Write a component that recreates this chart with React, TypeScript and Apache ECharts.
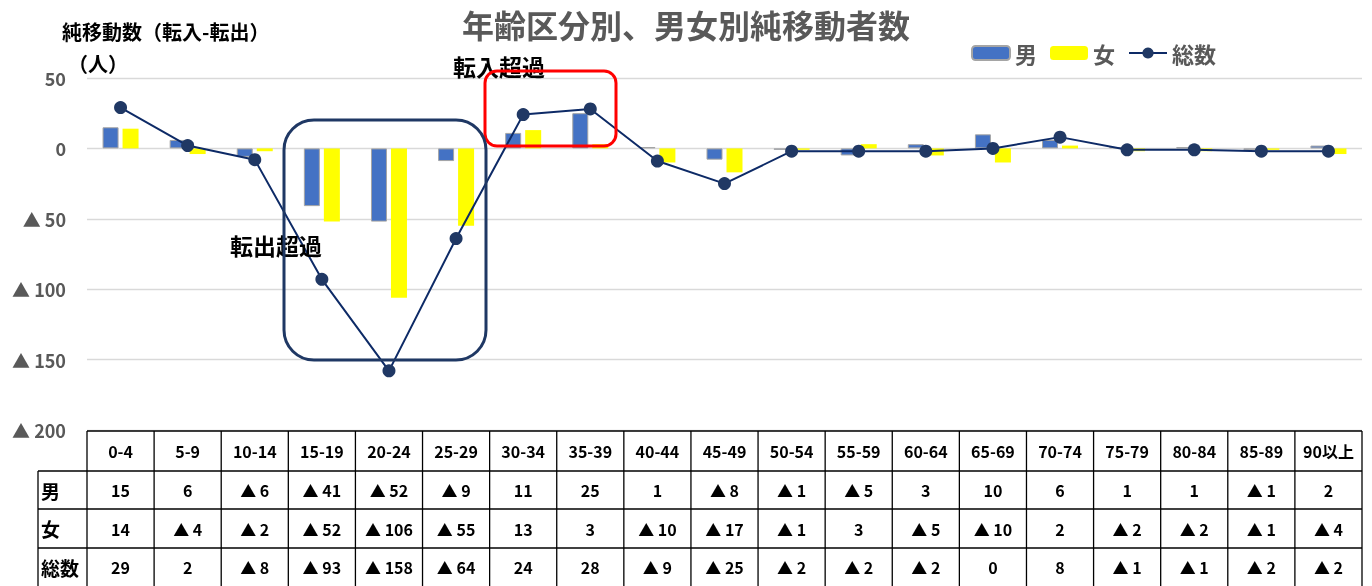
import React, { useEffect, useRef } from "react";
import * as echarts from "echarts";

const categories = ["0-4", "5-9", "10-14", "15-19", "20-24", "25-29", "30-34", "35-39", "40-44", "45-49", "50-54", "55-59", "60-64", "65-69", "70-74", "75-79", "80-84", "85-89", "90以上"];
const maleValues = [15, 6, -6, -41, -52, -9, 11, 25, 1, -8, -1, -5, 3, 10, 6, 1, 1, -1, 2];
const femaleValues = [14, -4, -2, -52, -106, -55, 13, 3, -10, -17, -1, 3, -5, -10, 2, -2, -2, -1, -4];
const totalValues = [29, 2, -8, -93, -158, -64, 24, 28, -9, -25, -2, -2, -2, 0, 8, -1, -1, -2, -2];
const rowLabels = ["男", "女", "総数"];
const seriesNames = ["男", "女", "総数"];

const FONT = "'Noto Sans CJK JP', 'Noto Sans', sans-serif";
const fmt = (v: number) => (v < 0 ? "▲ " + -v : String(v));

export default function App() {
  const ref = useRef<HTMLDivElement>(null);
  useEffect(() => {
    if (!ref.current) return;
    const chart = echarts.init(ref.current, null, { renderer: "svg" });

    const gridLeft = 87;
    const gridRight = 1362;
    const colW = (gridRight - gridLeft) / categories.length;
    const tableTop = 431;
    const rowBounds = [431, 471, 509, 548, 586];
    const labelLeft = 38;
    const lineStyle = { stroke: "#000", lineWidth: 1.3 };

    const graphics: any[] = [];
    graphics.push({ type: "line", shape: { x1: gridLeft, y1: tableTop, x2: gridRight, y2: tableTop }, style: lineStyle, z: 100 });
    for (let r = 1; r < 4; r++) {
      graphics.push({ type: "line", shape: { x1: labelLeft, y1: rowBounds[r], x2: gridRight, y2: rowBounds[r] }, style: lineStyle, z: 100 });
    }
    graphics.push({ type: "line", shape: { x1: labelLeft, y1: rowBounds[1], x2: labelLeft, y2: 586 }, style: lineStyle, z: 100 });
    for (let c = 0; c <= categories.length; c++) {
      const x = gridLeft + c * colW;
      graphics.push({ type: "line", shape: { x1: x, y1: tableTop, x2: x, y2: 586 }, style: lineStyle, z: 100 });
    }
    const rows = [maleValues, femaleValues, totalValues];
    categories.forEach((cat, i) => {
      const cx = gridLeft + (i + 0.5) * colW;
      graphics.push({
        type: "text", x: cx, y: (rowBounds[0] + rowBounds[1]) / 2,
        style: { text: cat, fill: "#000", font: `bold 16px ${FONT}`, textAlign: "center", textVerticalAlign: "middle" }, z: 100,
      });
      rows.forEach((arr, r) => {
        graphics.push({
          type: "text", x: cx, y: (rowBounds[r + 1] + rowBounds[r + 2]) / 2,
          style: { text: fmt(arr[i]), fill: "#000", font: `bold 16px ${FONT}`, textAlign: "center", textVerticalAlign: "middle" }, z: 100,
        });
      });
    });
    rowLabels.forEach((lab, r) => {
      graphics.push({
        type: "text", x: 41, y: (rowBounds[r + 1] + rowBounds[r + 2]) / 2,
        style: { text: lab, fill: "#000", font: `bold 19px ${FONT}`, textAlign: "left", textVerticalAlign: "middle" }, z: 100,
      });
    });
    graphics.push({ type: "text", x: 62, y: 31, style: { text: "純移動数（転入-転出）", fill: "#000", font: `bold 20px ${FONT}`, textVerticalAlign: "middle" } });
    graphics.push({ type: "text", x: 68, y: 63, style: { text: "（人）", fill: "#000", font: `bold 20px ${FONT}`, textVerticalAlign: "middle" } });
    graphics.push({ type: "text", x: 453, y: 66, style: { text: "転入超過", fill: "#000", font: `bold 23px ${FONT}`, textVerticalAlign: "middle" }, z: 50 });
    graphics.push({ type: "text", x: 230, y: 245, style: { text: "転出超過", fill: "#000", font: `bold 23px ${FONT}`, textVerticalAlign: "middle" }, z: 50 });
    graphics.push({ type: "rect", shape: { x: 485, y: 71, width: 131, height: 75, r: 12 }, style: { fill: "none", stroke: "#ff0000", lineWidth: 3 }, z: 50 });
    graphics.push({ type: "rect", shape: { x: 284, y: 120, width: 202, height: 240, r: 30 }, style: { fill: "none", stroke: "#1f3864", lineWidth: 3 }, z: 50 });

    chart.setOption({
      animation: false,
      title: {
        text: "年齢区分別、男女別純移動者数",
        left: "center",
        top: 3,
        textStyle: { fontFamily: FONT, fontSize: 32, fontWeight: "bold", color: "#595959" },
      },
      legend: {
        left: 966,
        top: 37,
        itemWidth: 38,
        itemHeight: 14,
        itemGap: 13,
        data: seriesNames,
        textStyle: { fontFamily: FONT, fontSize: 22, fontWeight: "bold", color: "#595959" },
      },
      grid: { left: gridLeft, right: 1372 - gridRight, top: 78, bottom: 586 - tableTop + 1, containLabel: false },
      xAxis: {
        type: "category",
        data: categories,
        axisLine: { show: false },
        axisTick: { show: false },
        axisLabel: { show: false },
      },
      yAxis: {
        type: "value",
        min: -200,
        max: 50,
        interval: 50,
        axisLine: { show: false },
        axisTick: { show: false },
        splitLine: { lineStyle: { color: "#d9d9d9", width: 1.3 } },
        axisLabel: {
          margin: 21,
          formatter: (v: number) => fmt(v),
          fontFamily: FONT,
          fontSize: 18,
          fontWeight: "bold",
          color: "#595959",
        },
      },
      series: [
        {
          name: seriesNames[0],
          type: "bar",
          data: maleValues,
          barWidth: 16,
          barGap: "25%",
          itemStyle: { color: "#4472c4", borderColor: "#a5a5a5", borderWidth: 1 },
        },
        {
          name: seriesNames[1],
          type: "bar",
          data: femaleValues,
          barWidth: 16,
          barGap: "25%",
          itemStyle: { color: "#ffff00" },
        },
        {
          name: seriesNames[2],
          type: "line",
          data: totalValues,
          symbol: "circle",
          symbolSize: 13,
          z: 10,
          lineStyle: { color: "#0d2a66", width: 2 },
          itemStyle: { color: "#203864" },
        },
      ],
      graphic: graphics,
    });
    return () => chart.dispose();
  }, []);
  return <div ref={ref} style={{ position: "fixed", left: 0, top: 0, width: 1372, height: 586 }} />;
}
